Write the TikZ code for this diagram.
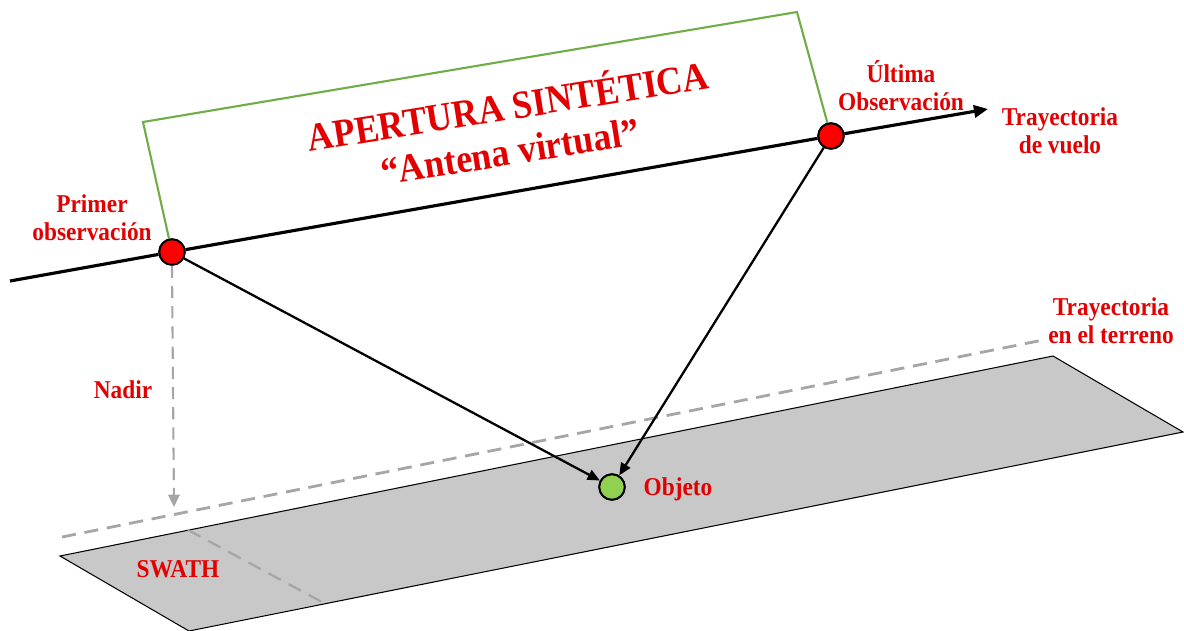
\documentclass[tikz,border=0pt]{standalone}
\usepackage{fontspec}
\setmainfont{Liberation Serif}
\newfontfamily\narrowserif{Liberation Serif}[FakeStretch=0.91]
\usetikzlibrary{arrows.meta}
\definecolor{txtred}{RGB}{226,0,0}
\definecolor{ptred}{RGB}{255,0,0}
\definecolor{objgreen}{RGB}{146,208,80}
\definecolor{brgreen}{RGB}{112,173,71}
\definecolor{dashgray}{RGB}{166,166,166}
\definecolor{swathgray}{RGB}{200,200,200}
\tikzset{
  lbl/.style={text=txtred, font=\narrowserif\bfseries\fontsize{14.6}{15.9}\selectfont, align=center, inner sep=1pt},
  bigl/.style={text=txtred, font=\narrowserif\bfseries\fontsize{22.5}{24}\selectfont, align=center, inner sep=0pt, rotate=9, anchor=base},
  pt/.style={circle, draw=black, line width=1.1pt, fill=ptred, minimum size=14.5pt, inner sep=0pt},
  objpt/.style={circle, draw=black, line width=1.1pt, fill=objgreen, minimum size=14.5pt, inner sep=0pt},
  ray/.style={line width=1.3pt, -{Triangle[length=7pt,width=6pt]}},
  gdash/.style={dashgray, line width=1.6pt, dash pattern=on 8pt off 5pt},
}
\begin{document}
\begin{tikzpicture}[x=0.02cm, y=-0.02cm]
\useasboundingbox (0,0) rectangle (1184,630);
% ground swath
\coordinate (s1) at (60,556);
\coordinate (s2) at (1053,356);
\coordinate (s3) at (1183,432);
\coordinate (s4) at (189,631);
\fill[swathgray] (s1) -- (s2) -- (s3) -- (s4) -- cycle;
\draw[black, line width=0.6pt] (s4) -- (s1) -- (s2) -- (s3) -- (s4);
% swath width dashed
\coordinate (w1) at (188,530);
\coordinate (w2) at (322,602);
\draw[gdash, line width=1.3pt] (w1) -- (w2);
% ground track
\coordinate (t1) at (62,537);
\coordinate (t2) at (1043,340);
\draw[gdash] (t1) -- (t2);
% points
\node[pt] (p1) at (172,252) {};
\node[pt] (p2) at (831,136) {};
\node[objpt] (obj) at (612,487) {};
% flight path
\coordinate (f0) at (10,281);
\coordinate (f1) at (988,109);
\draw[line width=1.8pt, -{Triangle[length=8pt,width=7pt]}] (f0) -- (p1) -- (p2) -- (f1);
% green bracket
\coordinate (g1) at (143,122);
\coordinate (g2) at (797,12);
\draw[brgreen, line width=1.2pt] (p1) -- (g1) -- (g2) -- (p2);
% nadir
\coordinate (nd) at (174,507);
\draw[dashgray, line width=1.2pt, dash pattern=on 7pt off 4.5pt, -{Triangle[length=7pt,width=6.5pt]}] (p1.south) -- (nd);
% rays
\draw[ray] (p1) -- (obj);
\draw[ray] (p2) -- (obj);
% redraw points on top
\node[pt] at (p1) {};
\node[pt] at (p2) {};
\node[objpt] at (obj) {};
% labels
\node[bigl] (title) at (510,120) {APERTURA SINTÉTICA};
\node[bigl] (sub) at (512,165) {“Antena virtual”};
\node[lbl] (lp1) at (92,218) {Primer\\observación};
\node[lbl] (lp2) at (901,86) {Última\\Observación};
\node[lbl] (lfl) at (1060,131) {Trayectoria\\de vuelo};
\node[lbl] (lgt) at (1111,321) {Trayectoria\\en el terreno};
\node[lbl] (lnd) at (123,390) {Nadir};
\node[lbl] (lob) at (678,489) {Objeto};
\node[lbl] (lsw) at (178,569) {SWATH};
\end{tikzpicture}
\end{document}
